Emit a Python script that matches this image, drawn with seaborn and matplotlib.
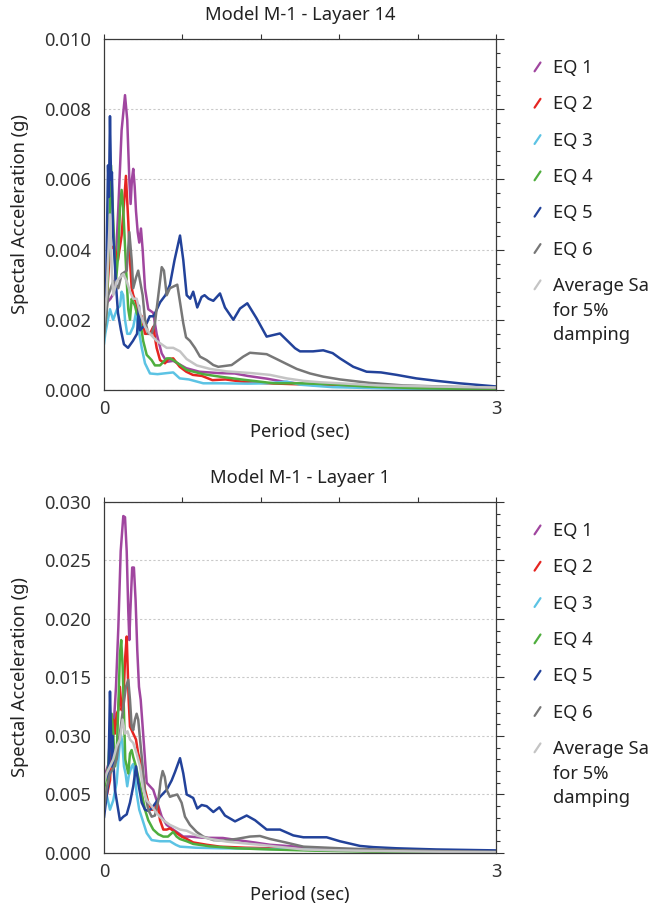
import numpy as np
import pandas as pd
import matplotlib
matplotlib.use("Agg")
import matplotlib.pyplot as plt
from matplotlib.lines import Line2D
from matplotlib.ticker import MultipleLocator
import seaborn as sns

# ---------------------------------------------------------------------------
# Response spectra (period in s, spectral acceleration in g)
# ---------------------------------------------------------------------------
SERIES = ["EQ 1", "EQ 2", "EQ 3", "EQ 4", "EQ 5", "EQ 6",
          "Average Sa\nfor 5%\ndamping"]
COLORS = ["#a0469f", "#e52521", "#5cc3e4", "#4fae3e", "#22429a", "#777777",
          "#c4c4c4"]

# ---- Layer 14 ----
l14_eq1_t = [0, 0.05, 0.08, 0.11, 0.135, 0.161, 0.178, 0.194, 0.204, 0.214,
             0.224, 0.235, 0.245, 0.258, 0.27, 0.283, 0.296, 0.314, 0.339,
             0.377, 0.403, 0.442, 0.48, 0.53, 0.63, 0.73, 0.88, 1.0, 1.1,
             1.25, 1.4, 1.6, 1.85, 2.3, 3.0]
l14_eq1_sa = [0.0024, 0.0026, 0.0028, 0.0052, 0.0074, 0.0084, 0.0077, 0.0060,
              0.0053, 0.0060, 0.0063, 0.0058, 0.0051, 0.0045, 0.0042, 0.0046,
              0.0040, 0.0029, 0.0023, 0.0022, 0.0016, 0.00104, 0.0008,
              0.00083, 0.00062, 0.00052, 0.00048, 0.00047, 0.00040, 0.00032,
              0.00022, 0.00014, 0.0001, 0.00005, 0.00002]

l14_eq2_t = [0, 0.02, 0.046, 0.077, 0.107, 0.135, 0.153, 0.168, 0.186, 0.199,
             0.212, 0.224, 0.245, 0.262, 0.289, 0.314, 0.352, 0.377, 0.403,
             0.429, 0.467, 0.492, 0.53, 0.58, 0.63, 0.68, 0.75, 0.83, 0.93,
             1.05, 1.25, 1.5, 1.9, 2.4, 3.0]
l14_eq2_sa = [0.0016, 0.0025, 0.0040, 0.0041, 0.0037, 0.0044, 0.0053, 0.0061,
              0.0048, 0.0037, 0.0029, 0.0027, 0.0025, 0.0022, 0.0021, 0.0016,
              0.0016, 0.0018, 0.0012, 0.00085, 0.00076, 0.00088, 0.0009,
              0.00066, 0.00052, 0.00043, 0.0004, 0.00028, 0.0003, 0.00024,
              0.00019, 0.00016, 0.00011, 0.00006, 0.00003]

l14_eq3_t = [0, 0.01, 0.025, 0.046, 0.07, 0.1, 0.123, 0.135, 0.147, 0.161,
             0.178, 0.199, 0.224, 0.245, 0.262, 0.289, 0.314, 0.352, 0.41,
             0.48, 0.53, 0.58, 0.65, 0.76, 0.9, 1.1, 1.25, 1.4, 1.5, 1.75,
             2.2, 3.0]
l14_eq3_sa = [0.0013, 0.0016, 0.0019, 0.0023, 0.0020, 0.0023, 0.0024, 0.0028,
              0.0027, 0.0020, 0.0016, 0.0016, 0.0018, 0.0022, 0.0018, 0.0012,
              0.00076, 0.00047, 0.00045, 0.00048, 0.0005, 0.00033, 0.0003,
              0.00019, 0.00019, 0.00018, 0.00019, 0.00024, 0.00015, 0.00008,
              0.00004, 0.00002]

l14_eq4_t = [0, 0.02, 0.04, 0.054, 0.077, 0.092, 0.11, 0.123, 0.135, 0.147,
             0.161, 0.174, 0.186, 0.199, 0.212, 0.224, 0.237, 0.25, 0.276,
             0.3, 0.327, 0.365, 0.39, 0.429, 0.48, 0.505, 0.53, 0.565, 0.633,
             0.76, 0.885, 1.05, 1.3, 1.5, 1.75, 2.0, 2.4, 3.0]
l14_eq4_sa = [0.0016, 0.0022, 0.0045, 0.0064, 0.0043, 0.0031, 0.0039, 0.0052,
              0.0057, 0.0052, 0.0041, 0.0031, 0.0023, 0.0020, 0.0026, 0.0025,
              0.0024, 0.0022, 0.0020, 0.0014, 0.0010, 0.00085, 0.0007, 0.0007,
              0.0009, 0.0009, 0.00085, 0.00076, 0.00057, 0.00045, 0.00038,
              0.0003, 0.00019, 0.00019, 0.00016, 0.0001, 0.00005, 0.00002]

l14_eq5_t = [0, 0.015, 0.031, 0.038, 0.046, 0.054, 0.061, 0.069, 0.077, 0.092,
             0.107, 0.13, 0.153, 0.184, 0.222, 0.253, 0.268, 0.276, 0.3,
             0.327, 0.35, 0.38, 0.43, 0.47, 0.505, 0.54, 0.582, 0.607, 0.633,
             0.66, 0.683, 0.714, 0.747, 0.77, 0.80, 0.837, 0.888, 0.926, 0.99,
             1.041, 1.097, 1.168, 1.245, 1.347, 1.462, 1.50, 1.60, 1.678,
             1.75, 1.806, 1.908, 2.01, 2.12, 2.24, 2.39, 2.546, 2.72, 3.0]
l14_eq5_sa = [0.0017, 0.0025, 0.0064, 0.0055, 0.0078, 0.0060, 0.0062, 0.0045,
              0.0040, 0.0030, 0.0022, 0.0017, 0.0013, 0.0012, 0.0014, 0.0016,
              0.0024, 0.0017, 0.0018, 0.0019, 0.0021, 0.0021, 0.0025, 0.0027,
              0.0030, 0.0037, 0.0044, 0.0037, 0.0027, 0.0026, 0.0028, 0.00235,
              0.00265, 0.0027, 0.0026, 0.00254, 0.00275, 0.00235, 0.0020,
              0.00232, 0.00247, 0.00204, 0.00152, 0.00161, 0.00119, 0.0011,
              0.0011, 0.00113, 0.00105, 0.0009, 0.00066, 0.00052, 0.0005,
              0.00043, 0.00033, 0.00026, 0.00019, 0.0001]

l14_eq6_t = [0, 0.033, 0.071, 0.11, 0.135, 0.174, 0.194, 0.212, 0.224, 0.245,
             0.262, 0.296, 0.314, 0.339, 0.365, 0.39, 0.416, 0.442, 0.459,
             0.48, 0.505, 0.561, 0.582, 0.607, 0.628, 0.658, 0.696, 0.735,
             0.786, 0.837, 0.875, 0.977, 1.066, 1.117, 1.245, 1.322, 1.398,
             1.475, 1.577, 1.678, 1.806, 2.036, 2.29, 2.57, 3.0]
l14_eq6_sa = [0.0015, 0.0027, 0.0031, 0.0029, 0.0033, 0.0034, 0.0045, 0.0037,
              0.0029, 0.0032, 0.0034, 0.0027, 0.0020, 0.0016, 0.0016, 0.0019,
              0.0027, 0.0035, 0.0034, 0.0027, 0.0029, 0.0030, 0.0025, 0.0019,
              0.0015, 0.0014, 0.0012, 0.00095, 0.00085, 0.00071, 0.00066,
              0.00071, 0.00095, 0.00106, 0.00102, 0.00088, 0.00074, 0.0006,
              0.00047, 0.00038, 0.0003, 0.0002, 0.00013, 0.0001, 0.00006]

l14_avg_t = [0, 0.02, 0.046, 0.059, 0.071, 0.097, 0.122, 0.148, 0.174, 0.199,
             0.224, 0.25, 0.276, 0.314, 0.352, 0.403, 0.48, 0.53, 0.582,
             0.633, 0.71, 0.811, 0.939, 1.13, 1.27, 1.398, 1.525, 1.65,
             1.806, 2.1, 2.5, 3.0]
l14_avg_sa = [0.0019, 0.0027, 0.0050, 0.0035, 0.0027, 0.0031, 0.0032, 0.0033,
              0.0031, 0.0028, 0.0026, 0.0026, 0.0022, 0.0018, 0.0016, 0.0014,
              0.0012, 0.0012, 0.0011, 0.00088, 0.0007, 0.0006, 0.00053,
              0.00048, 0.00043, 0.00033, 0.00026, 0.00022, 0.00019, 0.00013,
              0.0001, 0.00007]

# ---- Layer 1 ----
l1_eq1_t = [0, 0.02, 0.046, 0.059, 0.071, 0.092, 0.11, 0.128, 0.148, 0.161,
            0.174, 0.186, 0.194, 0.202, 0.216, 0.229, 0.242, 0.255, 0.268,
            0.281, 0.296, 0.314, 0.327, 0.352, 0.377, 0.403, 0.442, 0.48,
            0.53, 0.607, 0.658, 0.76, 0.91, 1.02, 1.15, 1.27, 1.52, 1.8, 2.2,
            3.0]
l1_eq1_sa = [0.0065, 0.0071, 0.0080, 0.0085, 0.0102, 0.0142, 0.0193, 0.0258,
             0.0288, 0.0287, 0.0258, 0.0207, 0.0182, 0.0207, 0.0244, 0.0244,
             0.0216, 0.0173, 0.0142, 0.0131, 0.0108, 0.0080, 0.0060, 0.0057,
             0.0054, 0.0045, 0.0031, 0.0024, 0.0020, 0.0014, 0.0014, 0.0013,
             0.00128, 0.0011, 0.0009, 0.0007, 0.0005, 0.0003, 0.00015,
             0.00005]

l1_eq2_t = [0, 0.023, 0.046, 0.071, 0.084, 0.097, 0.11, 0.122, 0.135, 0.148,
            0.161, 0.174, 0.181, 0.189, 0.199, 0.212, 0.224, 0.245, 0.262,
            0.289, 0.314, 0.339, 0.365, 0.39, 0.408, 0.429, 0.454, 0.48,
            0.505, 0.556, 0.594, 0.633, 0.683, 0.786, 0.888, 1.08, 1.27, 1.5,
            1.9, 2.4, 3.0]
l1_eq2_sa = [0.0044, 0.0050, 0.0062, 0.0114, 0.0102, 0.0119, 0.0122, 0.0142,
             0.0122, 0.0128, 0.0165, 0.0185, 0.0160, 0.0131, 0.0108, 0.0105,
             0.0102, 0.0097, 0.0085, 0.0074, 0.0054, 0.0043, 0.0037, 0.0037,
             0.0043, 0.0028, 0.0020, 0.0020, 0.0021, 0.0017, 0.0014, 0.0012,
             0.0009, 0.0007, 0.00054, 0.00045, 0.0004, 0.0003, 0.0002, 0.0001,
             0.00005]

l1_eq3_t = [0, 0.02, 0.046, 0.071, 0.097, 0.114, 0.128, 0.14, 0.153, 0.165,
            0.178, 0.19, 0.212, 0.224, 0.237, 0.25, 0.27, 0.296, 0.327, 0.365,
            0.429, 0.505, 0.55, 0.582, 0.7, 0.888, 1.2, 1.5, 2.0, 2.5, 3.0]
l1_eq3_sa = [0.0040, 0.0050, 0.0037, 0.0045, 0.0060, 0.0085, 0.0102, 0.0095,
             0.0074, 0.0068, 0.0057, 0.0066, 0.0074, 0.0076, 0.0065, 0.0051,
             0.0037, 0.0028, 0.0017, 0.0011, 0.0010, 0.0010, 0.0007, 0.00054,
             0.00045, 0.0004, 0.00035, 0.0003, 0.0002, 0.0001, 0.00005]

l1_eq4_t = [0, 0.033, 0.046, 0.059, 0.071, 0.084, 0.097, 0.11, 0.122, 0.132,
            0.143, 0.153, 0.163, 0.186, 0.199, 0.212, 0.224, 0.245, 0.262,
            0.289, 0.314, 0.339, 0.377, 0.416, 0.454, 0.49, 0.53, 0.556, 0.58,
            0.633, 0.683, 0.811, 1.015, 1.27, 1.6, 2.0, 2.5, 3.0]
l1_eq4_sa = [0.0054, 0.0074, 0.0102, 0.0119, 0.0102, 0.0074, 0.0085, 0.0125,
             0.0170, 0.0182, 0.0159, 0.0120, 0.0080, 0.0068, 0.0085, 0.0088,
             0.0082, 0.0074, 0.0065, 0.0051, 0.0037, 0.0028, 0.0020, 0.0016,
             0.0014, 0.0014, 0.0018, 0.0014, 0.0012, 0.0010, 0.00077, 0.00057,
             0.0004, 0.0003, 0.0002, 0.00012, 0.00006, 0.00003]

l1_eq5_t = [0, 0.033, 0.046, 0.054, 0.061, 0.066, 0.071, 0.084, 0.097, 0.122,
            0.148, 0.174, 0.199, 0.224, 0.245, 0.262, 0.289, 0.314, 0.339,
            0.365, 0.403, 0.429, 0.48, 0.518, 0.543, 0.582, 0.607, 0.633,
            0.683, 0.714, 0.748, 0.786, 0.837, 0.883, 0.926, 1.003, 1.092,
            1.156, 1.245, 1.347, 1.449, 1.526, 1.704, 1.806, 1.96, 2.06, 2.24,
            2.42, 2.546, 3.0]
l1_eq5_sa = [0.0030, 0.0060, 0.0138, 0.0102, 0.0074, 0.0100, 0.0080, 0.0054,
             0.0045, 0.0028, 0.0031, 0.0033, 0.0043, 0.0057, 0.0074, 0.0060,
             0.0043, 0.0037, 0.0036, 0.0038, 0.0044, 0.0048, 0.0054, 0.0062,
             0.0069, 0.0081, 0.0068, 0.0050, 0.0047, 0.0038, 0.0041, 0.0040,
             0.0035, 0.0039, 0.0032, 0.0027, 0.0032, 0.0028, 0.0020, 0.0020,
             0.0015, 0.00134, 0.00134, 0.0010, 0.0006, 0.0005, 0.0004,
             0.00034, 0.0003, 0.00022]

l1_eq6_t = [0, 0.02, 0.046, 0.071, 0.097, 0.122, 0.148, 0.168, 0.186, 0.199,
            0.212, 0.224, 0.237, 0.25, 0.262, 0.276, 0.296, 0.314, 0.339,
            0.365, 0.39, 0.416, 0.434, 0.449, 0.465, 0.48, 0.505, 0.53, 0.561,
            0.594, 0.62, 0.658, 0.709, 0.76, 0.837, 0.913, 1.015, 1.117,
            1.194, 1.27, 1.398, 1.526, 1.806, 2.2, 2.6, 3.0]
l1_eq6_sa = [0.0037, 0.0055, 0.0068, 0.0072, 0.0080, 0.0102, 0.0125, 0.0142,
             0.0148, 0.0131, 0.0108, 0.0105, 0.0114, 0.0119, 0.0114, 0.0097,
             0.0074, 0.0051, 0.0037, 0.0031, 0.0032, 0.0045, 0.0062, 0.0070,
             0.0065, 0.0054, 0.0048, 0.0049, 0.0050, 0.0043, 0.0031, 0.0024,
             0.0018, 0.0014, 0.0011, 0.00106, 0.0012, 0.0014, 0.00145, 0.0012,
             0.00088, 0.00054, 0.0004, 0.00025, 0.00015, 0.0001]

l1_avg_t = [0, 0.02, 0.046, 0.071, 0.097, 0.122, 0.143, 0.161, 0.18, 0.199,
            0.224, 0.25, 0.276, 0.301, 0.327, 0.365, 0.403, 0.454, 0.505,
            0.582, 0.633, 0.709, 0.811, 0.939, 1.066, 1.194, 1.322, 1.526,
            1.8, 2.2, 2.6, 3.0]
l1_avg_sa = [0.0060, 0.0068, 0.0074, 0.0080, 0.0091, 0.0097, 0.0114, 0.0102,
             0.0104, 0.0097, 0.0094, 0.0085, 0.0074, 0.0054, 0.0045, 0.0040,
             0.0034, 0.0028, 0.0024, 0.0020, 0.0019, 0.0015, 0.0012, 0.00097,
             0.00083, 0.0007, 0.00054, 0.0003, 0.00022, 0.00015, 0.0001,
             0.00007]

# Axis ticks and labels
X_TICKS = [0, 0.6, 1.2, 1.8, 2.4, 3.0]
X_TICK_LABELS = ["0", "", "", "", "", "3"]
L14_Y_TICKS = [0.000, 0.002, 0.004, 0.006, 0.008, 0.010]
L14_Y_LABELS = ["0.000", "0.002", "0.004", "0.006", "0.008", "0.010"]
L1_Y_TICKS = [0.000, 0.005, 0.010, 0.015, 0.020, 0.025, 0.030]
L1_Y_LABELS = ["0.000", "0.005", "0.030", "0.015", "0.020", "0.025", "0.030"]


def spectra_frame(periods, values):
    parts = [pd.DataFrame({"Period": t, "Sa": s, "Record": name})
             for name, t, s in zip(SERIES, periods, values)]
    return pd.concat(parts, ignore_index=True)


l14 = spectra_frame(
    [l14_eq1_t, l14_eq2_t, l14_eq3_t, l14_eq4_t, l14_eq5_t, l14_eq6_t, l14_avg_t],
    [l14_eq1_sa, l14_eq2_sa, l14_eq3_sa, l14_eq4_sa, l14_eq5_sa, l14_eq6_sa,
     l14_avg_sa])
l1 = spectra_frame(
    [l1_eq1_t, l1_eq2_t, l1_eq3_t, l1_eq4_t, l1_eq5_t, l1_eq6_t, l1_avg_t],
    [l1_eq1_sa, l1_eq2_sa, l1_eq3_sa, l1_eq4_sa, l1_eq5_sa, l1_eq6_sa,
     l1_avg_sa])

# ---------------------------------------------------------------------------
# Styling
# ---------------------------------------------------------------------------
sns.set_theme(style="white")
plt.rcParams["font.family"] = ["Noto Sans", "DejaVu Sans"]
plt.rcParams["text.color"] = "#222222"
plt.rcParams["axes.labelcolor"] = "#222222"
plt.rcParams["xtick.color"] = "#333333"
plt.rcParams["ytick.color"] = "#333333"

FS = 13.2
fig = plt.figure(figsize=(6.49, 9.05), dpi=100)
ax_top = fig.add_axes([0.1602, 0.5691, 0.604, 0.3878])
ax_bot = fig.add_axes([0.1602, 0.0575, 0.604, 0.3878])


def draw_panel(ax, df, title, ymax, yticks, ylabels, yminor):
    sns.lineplot(data=df, x="Period", y="Sa", hue="Record", hue_order=SERIES,
                 palette=COLORS, estimator=None, sort=False, linewidth=1.8,
                 legend=False, ax=ax)
    ax.set_xlim(0, 3)
    ax.set_ylim(0, ymax)
    ax.set_xticks(X_TICKS)
    ax.set_xticklabels(X_TICK_LABELS, fontsize=FS)
    ax.set_yticks(yticks)
    ax.set_yticklabels(ylabels, fontsize=FS)
    ax.yaxis.set_minor_locator(MultipleLocator(yminor))
    ax.tick_params(axis="both", which="both", direction="out", top=True,
                   right=True, labeltop=False, labelright=False)
    ax.tick_params(axis="y", which="major", length=5.5, width=0.8, pad=3.5)
    ax.tick_params(axis="y", which="minor", length=3.2, width=0.8)
    ax.tick_params(axis="x", which="major", length=3.5, width=0.8, pad=4)
    ax.grid(False)
    ax.yaxis.grid(True, which="major", color="#c9c9c9",
                  linestyle=(0, (2, 2)), linewidth=0.8)
    ax.set_axisbelow(True)
    for sp in ax.spines.values():
        sp.set_color("#3a3a3a")
        sp.set_linewidth(0.9)
    ax.set_title(title, fontsize=FS, pad=13.5, color="#222222")
    ax.set_xlabel("Period (sec)", fontsize=FS, labelpad=3)
    ax.set_ylabel("Spectal Acceleration (g)", fontsize=FS, labelpad=11)

    # Key: short slanted strokes with labels to the right of the plot
    y0, step, line_gap = 0.922, 0.1035, 0.0704
    for i, (name, color) in enumerate(zip(SERIES, COLORS)):
        yc = y0 - i * step
        ax.add_line(Line2D([1.0985, 1.1135], [yc - 0.014, yc + 0.011],
                           transform=ax.transAxes, color=color, lw=1.6,
                           clip_on=False))
        for k, part in enumerate(name.split("\n")):
            ax.text(1.1454, yc - 0.019 - k * line_gap, part,
                    transform=ax.transAxes, fontsize=FS, va="baseline",
                    ha="left", color="#222222")


draw_panel(ax_top, l14, "Model M-1 - Layaer 14", 0.010, L14_Y_TICKS,
           L14_Y_LABELS, 0.0004)
draw_panel(ax_bot, l1, "Model M-1 - Layaer 1", 0.030, L1_Y_TICKS,
           L1_Y_LABELS, 0.001)

fig.savefig("out.png", dpi=100)
